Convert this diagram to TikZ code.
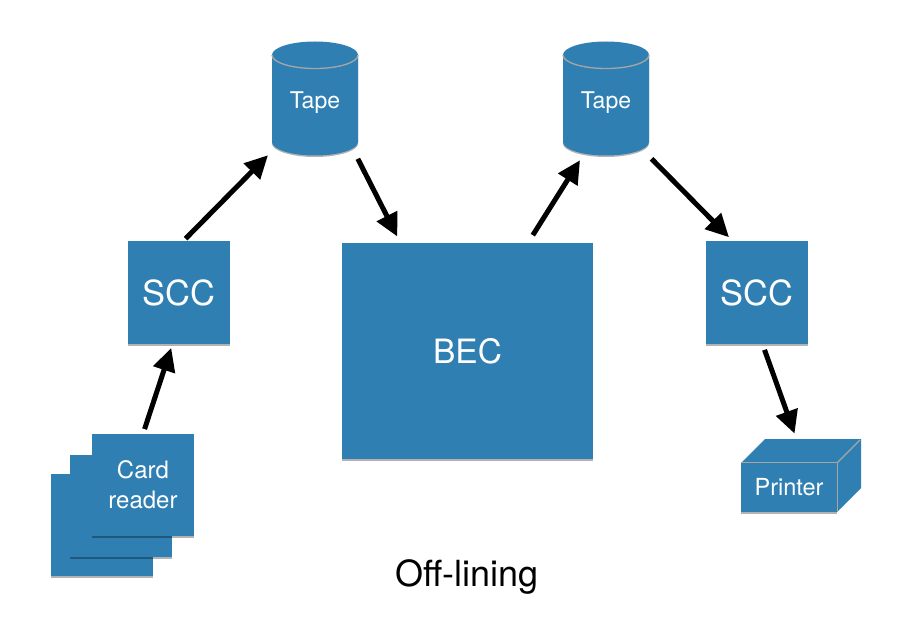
\documentclass[tikz,border=0pt]{standalone}
\usepackage{fontspec}
\setmainfont{TeX Gyre Heros}
\usetikzlibrary{shadows,arrows.meta}
\definecolor{tileblue}{HTML}{2F7FB3}
\begin{document}
\begin{tikzpicture}[x=1pt,y=-1pt,
                    tile shadow/.style={drop shadow={fill=black,opacity=0.3,shadow xshift=0pt,shadow yshift=-1.5pt}},
                    box node/.style={rectangle,fill=tileblue,text=white,inner sep=0pt,align=center,tile shadow},
                    tape node/.style={rectangle,text=white,inner sep=0pt,minimum width=86pt,minimum height=113pt,font=\fontsize{23}{27}\selectfont},
                    tape body/.style={fill=tileblue,tile shadow},
                    rim/.style={line width=1.3pt,gray!70},
                    flow/.style={-{Triangle[length=23pt,width=22pt]},line width=5pt,black}]

          \useasboundingbox (0,0) rectangle (915,628);

          \node[box node,minimum width=102pt,minimum height=102pt] (card3) at (102,525) {};
          \node[box node,minimum width=102pt,minimum height=102pt] (card2) at (121,506) {};
          \node[box node,minimum width=102pt,minimum height=102pt,font=\fontsize{24}{30}\selectfont] (card1) at (143,485) {Card\\reader};

          \node[box node,minimum width=102pt,minimum height=103pt,font=\fontsize{34.5}{40}\selectfont] (scc1) at (178.5,292.5) {SCC};
          \node[box node,minimum width=251pt,minimum height=216pt,font=\fontsize{33.5}{40}\selectfont] (bec) at (467.5,351) {BEC};
          \node[box node,minimum width=102pt,minimum height=103pt,font=\fontsize{34.5}{40}\selectfont] (scc2) at (756.5,292.5) {SCC};

          % tapes
          \path[tape body] (272,55) arc[start angle=180,end angle=0,x radius=43pt,y radius=13.5pt]
            -- (358,142) arc[start angle=0,end angle=-180,x radius=43pt,y radius=13.5pt] -- cycle;
          \path[tape body] (563,55) arc[start angle=180,end angle=0,x radius=43pt,y radius=13.5pt]
            -- (649,142) arc[start angle=0,end angle=-180,x radius=43pt,y radius=13.5pt] -- cycle;
          \draw[rim] (272,55) arc[start angle=180,end angle=360,x radius=43pt,y radius=13.5pt];
          \draw[rim] (563,55) arc[start angle=180,end angle=360,x radius=43pt,y radius=13.5pt];
          \node[tape node] (tape1) at (315,98.5) {\rule{0pt}{25pt}Tape};
          \node[tape node] (tape2) at (606,98.5) {\rule{0pt}{25pt}Tape};

          % printer
          \fill[tileblue] (741,463) -- (765,439) -- (861,439) -- (861,488) -- (837,512) -- cycle;
          \draw[rim] (741,463) -- (837,463) -- (837,512);
          \draw[rim] (837,463) -- (860,440);
          \node[box node,minimum width=96pt,minimum height=49pt,font=\fontsize{23.5}{27}\selectfont] (printer) at (789,487.5) {Printer};

          \node[font=\fontsize{36}{40}\selectfont] (title) at (467,577) {Off-lining};

          \path
          (card1.north) edge [flow,shorten <=5pt,shorten >=4pt] ([xshift=-6pt]scc1.south)
          ([xshift=5pt]scc1.north) edge [flow,shorten <=3pt] ([xshift=-47pt]tape1.south)
          ([xshift=41pt]tape1.south) edge [flow,shorten <=4pt,shorten >=7pt] ([xshift=-67pt]bec.north)
          ([xshift=60.5pt]bec.north) edge [flow,shorten <=9pt] ([xshift=-26pt,yshift=-5pt]tape2.south)
          ([xshift=42pt]tape2.south) edge [flow,shorten <=5pt,shorten >=5pt] ([xshift=-24pt]scc2.north)
          ([xshift=6pt]scc2.south) edge [flow,shorten <=6pt,shorten >=31pt] ([xshift=16pt]printer.north);

        \end{tikzpicture}
\end{document}
